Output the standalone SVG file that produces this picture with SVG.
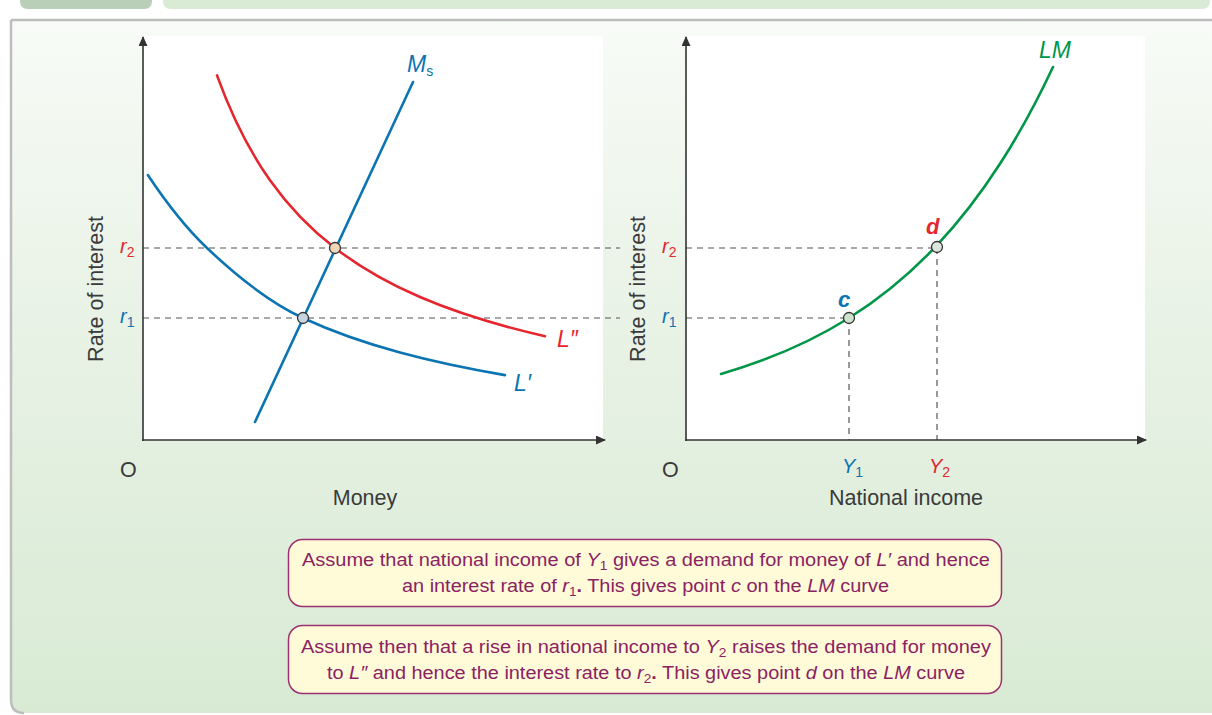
<svg xmlns="http://www.w3.org/2000/svg" width="1212" height="715" viewBox="0 0 1212 715">
<defs>
<linearGradient id="bg" x1="0" y1="0" x2="0" y2="1">
<stop offset="0" stop-color="#f8fbf7"/>
<stop offset="0.45" stop-color="#e8f2e5"/>
<stop offset="1" stop-color="#d8ead4"/>
</linearGradient>
<marker id="arr" viewBox="0 0 10 10" refX="9" refY="5" markerWidth="10" markerHeight="9" orient="auto" markerUnits="userSpaceOnUse" preserveAspectRatio="none">
<path d="M0,0 L10,5 L0,10 z" fill="#333"/>
</marker>
</defs>
<style>
.ax{stroke:#333;stroke-width:1.6;fill:none}
.dash{stroke:#555;stroke-width:1.2;stroke-dasharray:6 5;fill:none}
.crv{fill:none;stroke-width:2.6;stroke-linecap:round}
.lbl{font-family:"Liberation Sans",Arial,sans-serif;fill:#3a3a3a;font-size:21.5px}
.it{font-style:italic}
.sub{font-style:normal;font-size:14px}
.rl{font-size:20px}
.cl{font-size:23px}
.pl{font-size:22px;font-weight:bold}
.pt{stroke:#333;stroke-width:1.3}
.box{fill:#fffbd8;stroke:#9c3070;stroke-width:1.5}
.bt{font-family:"Liberation Sans Narrow","Liberation Sans",Arial,sans-serif;font-size:17.5px;fill:#8a2262}
.bsub{font-size:12px}
.blue{fill:#0b74b2}
.red{fill:#e5262e}
.green{fill:#009648}
</style>
<!-- background -->
<rect x="0" y="0" width="1212" height="715" fill="#ffffff"/>
<path d="M11,20 H1212 V713 H24 Q11,713 11,700 Z" fill="url(#bg)"/>
<path d="M11,20 V700 Q11,713 24,713" fill="none" stroke="#bdbdbd" stroke-width="2.5"/>
<line x1="11" y1="20" x2="1212" y2="20" stroke="#bdbdbd" stroke-width="2.5"/>
<path d="M20,-10 H152 V1 Q152,9 144,9 H28 Q20,9 20,1 Z" fill="#b9cfb8"/>
<path d="M163,-10 H1210 V1 Q1210,9 1202,9 H171 Q163,9 163,1 Z" fill="#d9ebd5"/>
<!-- plot areas -->
<rect x="143" y="36" width="460" height="404" fill="#ffffff"/>
<rect x="686" y="36" width="459" height="404" fill="#ffffff"/>

<g id="connectors">
<line class="dash" x1="143" y1="248" x2="620" y2="248"/>
<line class="dash" x1="143" y1="318" x2="620" y2="318"/>
<line class="dash" x1="686" y1="248" x2="937" y2="248"/>
<line class="dash" x1="686" y1="318" x2="849" y2="318"/>
<line class="dash" x1="849" y1="318" x2="849" y2="440"/>
<line class="dash" x1="937" y1="248" x2="937" y2="440"/>
<line class="ax" x1="143" y1="441" x2="143" y2="37" marker-end="url(#arr)"/>
<line class="ax" x1="142" y1="440" x2="605" y2="440" marker-end="url(#arr)"/>
<line class="ax" x1="686" y1="441" x2="686" y2="37" marker-end="url(#arr)"/>
<line class="ax" x1="685" y1="440" x2="1146" y2="440" marker-end="url(#arr)"/>
</g>

<g id="curve-Lprime">
<path class="crv" stroke="#0b74b2" d="M148,175.2 C167.67,204.7 187.33,229.3 207,248 C239,278.4 271,303.1 303,318 C335.33,333.03 367.67,343.74 400,352.5 C435,361.99 470,369.09 505,375.1"/>
<text class="lbl it blue cl" x="514" y="391">L′</text>
</g>
<g id="curve-Ldouble">
<path class="crv" stroke="#e5262e" d="M217,75.4 C234.67,124.36 252.33,155.27 270,180.2 C291.67,210.77 313.33,231.26 335,248 C363.33,269.89 391.67,284.86 420,297.05 C461.67,314.98 503.33,326.69 545,336.2"/>
<text class="lbl it red cl" x="557" y="347">L″</text>
</g>
<g id="curve-Ms">
<line class="crv" x1="255" y1="422" x2="413" y2="82" stroke="#0b74b2"/>
<text class="lbl it blue cl" x="407" y="72">M<tspan class="sub" dy="4">s</tspan></text>
</g>
<g id="curve-LM">
<path class="crv" stroke="#009648" d="M721,374 C763.67,361.58 806.33,344.75 849,318 C878.33,299.61 907.67,276.41 937,245.2 C958,222.86 979,196.39 1000,163.8 C1017.67,136.38 1035.33,104.69 1053,67"/>
<text class="lbl it green cl" x="1039" y="58">LM</text>
</g>

<g id="point-lower-left"><circle class="pt" cx="303" cy="318" r="5.5" fill="#c6d5df"/></g>
<g id="point-upper-left"><circle class="pt" cx="335" cy="248" r="5.5" fill="#f1d6b8"/></g>
<g id="point-c">
<circle class="pt" cx="849" cy="318" r="5.5" fill="#cde4cc"/>
<text class="lbl it blue pl" x="838" y="307">c</text>
</g>
<g id="point-d">
<circle class="pt" cx="937" cy="247" r="5.5" fill="#dde6dc"/>
<text class="lbl it red pl" x="926" y="234">d</text>
</g>

<g id="axis-labels-left">
<text class="lbl" transform="translate(103,289) rotate(-90)" text-anchor="middle">Rate of interest</text>
<text class="lbl it red rl" x="120" y="253">r<tspan class="sub" dy="4">2</tspan></text>
<text class="lbl it blue rl" x="120" y="323">r<tspan class="sub" dy="4">1</tspan></text>
<text class="lbl" x="120" y="477">O</text>
<text class="lbl" x="365" y="505" text-anchor="middle">Money</text>
</g>
<g id="axis-labels-right">
<text class="lbl" transform="translate(645,289) rotate(-90)" text-anchor="middle">Rate of interest</text>
<text class="lbl it red rl" x="662" y="253">r<tspan class="sub" dy="4">2</tspan></text>
<text class="lbl it blue rl" x="662" y="323">r<tspan class="sub" dy="4">1</tspan></text>
<text class="lbl" x="662" y="477">O</text>
<text class="lbl it blue rl" x="842" y="473">Y<tspan class="sub" dy="4">1</tspan></text>
<text class="lbl it red rl" x="929" y="473">Y<tspan class="sub" dy="4">2</tspan></text>
<text class="lbl" x="906" y="505" text-anchor="middle">National income</text>
</g>

<g id="note-1">
<rect class="box" x="288.5" y="539.5" width="713" height="67" rx="14"/>
<text class="bt" x="302" y="566" textLength="688" lengthAdjust="spacingAndGlyphs">Assume that national income of <tspan class="it">Y</tspan><tspan class="bsub" dy="4">1</tspan><tspan dy="-4"> gives a demand for money of </tspan><tspan class="it">L′</tspan> and hence</text>
<text class="bt" x="402" y="592" textLength="487" lengthAdjust="spacingAndGlyphs">an interest rate of <tspan class="it">r</tspan><tspan class="bsub" dy="4">1</tspan><tspan dy="-4" font-weight="bold">.</tspan> This gives point <tspan class="it">c</tspan> on the <tspan class="it">LM</tspan> curve</text>
</g>
<g id="note-2">
<rect class="box" x="288.5" y="625.5" width="713" height="68" rx="14"/>
<text class="bt" x="301" y="653" textLength="690" lengthAdjust="spacingAndGlyphs">Assume then that a rise in national income to <tspan class="it">Y</tspan><tspan class="bsub" dy="4">2</tspan><tspan dy="-4"> raises the demand for money</tspan></text>
<text class="bt" x="327" y="679" textLength="638" lengthAdjust="spacingAndGlyphs">to <tspan class="it">L″</tspan> and hence the interest rate to <tspan class="it">r</tspan><tspan class="bsub" dy="4">2</tspan><tspan dy="-4" font-weight="bold">.</tspan> This gives point <tspan class="it">d</tspan> on the <tspan class="it">LM</tspan> curve</text>
</g>
</svg>
